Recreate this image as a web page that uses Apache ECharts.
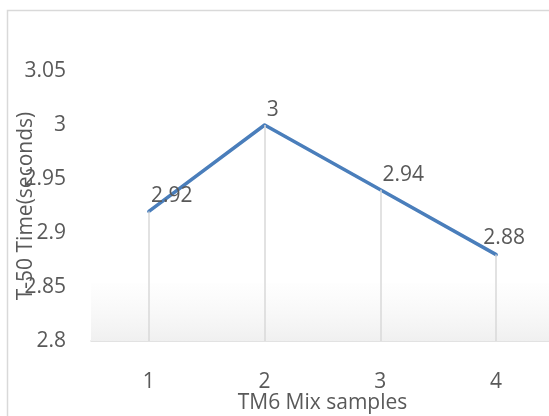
<!DOCTYPE html>
<html>
<head>
<meta charset="utf-8">
<script src="https://cdn.jsdelivr.net/npm/echarts@6/dist/echarts.min.js"></script>
<style>
  html, body { margin: 0; padding: 0; background: #fff; overflow: hidden; }
  #chart { width: 549px; height: 416px; }
</style>
</head>
<body>
<div id="chart"></div>
<script>
  // T-50 time per TM6 mix sample
  const samples = ['1', '2', '3', '4'];
  const t50Values = [2.92, 3, 2.94, 2.88];
  const yTicks = [2.8, 2.85, 2.9, 2.95, 3, 3.05];

  const yMin = yTicks[0];
  const yMax = yTicks[yTicks.length - 1];
  const yStep = yTicks[1] - yTicks[0];

  const textColor = '#595959';
  const lineColor = '#d9d9d9';
  const fontFamily = '"Open Sans", sans-serif';
  const fontSize = 21;

  const chart = echarts.init(document.getElementById('chart'));

  chart.setOption({
    backgroundColor: '#fff',
    animation: false,
    textStyle: { fontFamily: fontFamily },
    graphic: [{
      type: 'rect',
      silent: true,
      shape: { x: 7.5, y: 10.5, width: 700, height: 600 },
      style: { fill: 'none', stroke: lineColor, lineWidth: 1.5 }
    }],
    grid: {
      left: 91,
      top: 71,
      right: -5,
      bottom: 75,
      containLabel: false,
      outerBoundsMode: 'none'
    },
    xAxis: {
      type: 'category',
      data: samples,
      name: 'TM6 Mix samples',
      nameLocation: 'middle',
      nameGap: 52,
      nameMoveOverlap: false,
      nameTextStyle: { color: textColor, fontSize: fontSize, fontFamily: fontFamily },
      axisTick: { show: false },
      axisLine: { lineStyle: { color: lineColor, width: 1.5 } },
      axisLabel: { color: textColor, fontSize: fontSize, margin: 31, fontFamily: fontFamily },
      splitLine: { show: false }
    },
    yAxis: {
      type: 'value',
      min: yMin,
      max: yMax,
      interval: yStep,
      name: 'T-50 Time(seconds)',
      nameLocation: 'middle',
      nameGap: 54,
      nameMoveOverlap: false,
      nameTextStyle: { color: textColor, fontSize: fontSize, fontFamily: fontFamily },
      axisLine: { show: false },
      axisTick: { show: false },
      axisLabel: {
        color: textColor,
        fontSize: fontSize,
        margin: 25,
        fontFamily: fontFamily,
        formatter: function (v) { return String(+v.toFixed(2)); }
      },
      splitLine: { show: false }
    },
    series: [{
      name: 'T-50',
      type: 'line',
      symbol: 'circle',
      symbolSize: 1,
      showSymbol: true,
      itemStyle: { color: 'rgba(0,0,0,0)' },
      lineStyle: { color: '#4A7EBB', width: 3.5, cap: 'round', join: 'round' },
      label: {
        show: true,
        position: 'top',
        align: 'left',
        distance: 4,
        offset: [2, 0],
        color: textColor,
        fontSize: fontSize,
        fontFamily: fontFamily
      },
      data: t50Values.map(function (v, i) {
        if (i === t50Values.length - 1) {
          return { value: v, label: { align: 'center', offset: [8, -2] } };
        }
        return v;
      }),
      markLine: {
        silent: true,
        symbol: 'none',
        animation: false,
        label: { show: false },
        lineStyle: { color: lineColor, width: 1.5, type: 'solid' },
        data: t50Values.map(function (v, i) {
          return [{ coord: [i, yMin] }, { coord: [i, v] }];
        })
      },
      markArea: {
        silent: true,
        itemStyle: {
          color: new echarts.graphic.LinearGradient(0, 0, 0, 1, [
            { offset: 0, color: 'rgba(245,245,245,0.1)' },
            { offset: 1, color: 'rgba(240,240,240,1)' }
          ])
        },
        data: [[{ yAxis: yMin + yStep * 1.07 }, { yAxis: yMin }]]
      },
      z: 3
    }]
  });
</script>
</body>
</html>
